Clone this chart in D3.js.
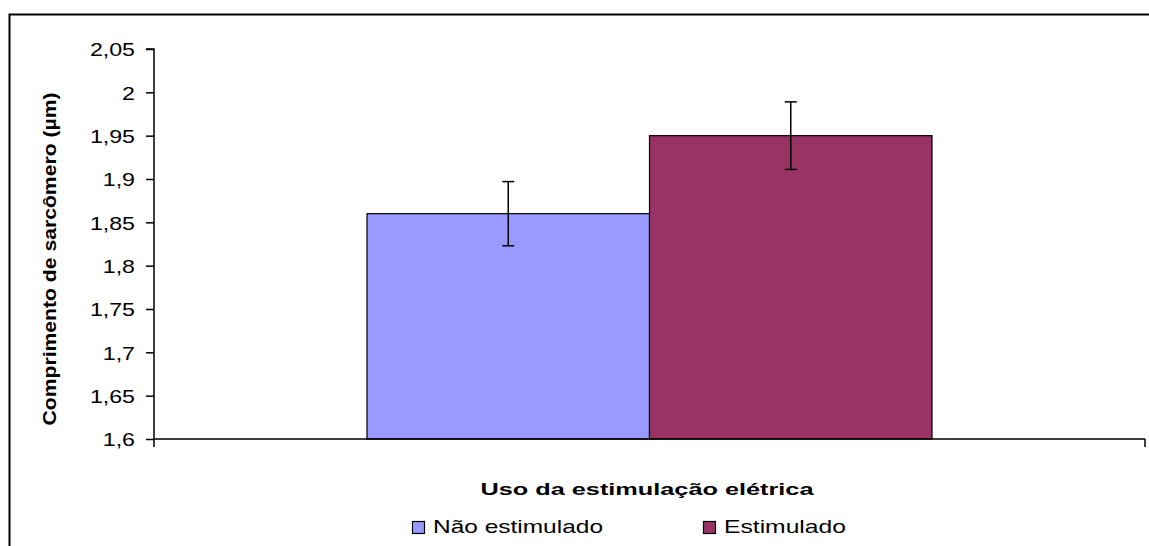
<!DOCTYPE html>
<html>
<head>
<meta charset="utf-8">
<script src="https://cdn.jsdelivr.net/npm/d3@7"></script>
<style>
  body { margin: 0; background: #fff; }
  svg { display: block; font-family: "Liberation Sans", Arial, sans-serif; }
</style>
</head>
<body>
<svg id="chart" width="1149" height="546"></svg>
<script>
// données
const series = ["Não estimulado", "Estimulado"];
const values = [1.86, 1.95];
const errors = [0.037, 0.039];
const colors = ["#9999ff", "#993366"];
const yTicks = [1.6, 1.65, 1.7, 1.75, 1.8, 1.85, 1.9, 1.95, 2, 2.05];

const svg = d3.select("#chart");

// étire le texte horizontalement (rendu Excel plus large)
function stretch(sel, k) {
  sel.each(function () {
    const w = this.getComputedTextLength();
    d3.select(this)
      .attr("textLength", w * k)
      .attr("lengthAdjust", "spacingAndGlyphs");
  });
}

// cadre extérieur
svg.append("rect")
  .attr("x", 9.5).attr("y", 14.5)
  .attr("width", 1300).attr("height", 700)
  .attr("fill", "none").attr("stroke", "#000").attr("stroke-width", 2);

const plot = { left: 154, right: 1145, top: 49, bottom: 439 };

const y = d3.scaleLinear().domain([1.6, 2.05]).range([plot.bottom, plot.top]);

const x = d3.scaleBand()
  .domain(series)
  .range([367, 932])
  .padding(0);

// axe Y
const yAxis = d3.axisLeft(y)
  .tickValues(yTicks)
  .tickSize(8)
  .tickPadding(11)
  .tickFormat(d => String(d).replace(".", ","));

const gy = svg.append("g")
  .attr("transform", `translate(${plot.left},0)`)
  .call(yAxis);
gy.select(".domain").attr("stroke", "#000").attr("stroke-width", 1.5)
  .attr("d", `M-8,${plot.top}H0V${plot.bottom}`);
gy.selectAll(".tick line").attr("stroke", "#000").attr("stroke-width", 1.5);
gy.selectAll(".tick text").attr("fill", "#000")
  .style("font-size", "19px").attr("dy", "0.36em")
  .call(stretch, 1.22);

// barres
svg.selectAll(".bar")
  .data(series)
  .join("rect")
  .attr("class", "bar")
  .attr("x", d => x(d))
  .attr("y", (d, i) => y(values[i]))
  .attr("width", x.bandwidth())
  .attr("height", (d, i) => y(1.6) - y(values[i]))
  .attr("fill", (d, i) => colors[i])
  .attr("stroke", "#000")
  .attr("stroke-width", 1.2);

// barres d'erreur
const eb = svg.selectAll(".err")
  .data(series)
  .join("g")
  .attr("class", "err")
  .attr("transform", d => `translate(${x(d) + x.bandwidth() / 2},0)`)
  .attr("stroke", "#000")
  .attr("stroke-width", 1.5);
eb.append("line")
  .attr("y1", (d, i) => y(values[i] + errors[i]))
  .attr("y2", (d, i) => y(values[i] - errors[i]));
eb.append("line").attr("x1", -6).attr("x2", 6)
  .attr("y1", (d, i) => y(values[i] + errors[i]))
  .attr("y2", (d, i) => y(values[i] + errors[i]));
eb.append("line").attr("x1", -6).attr("x2", 6)
  .attr("y1", (d, i) => y(values[i] - errors[i]))
  .attr("y2", (d, i) => y(values[i] - errors[i]));

// axe X
svg.append("line")
  .attr("x1", plot.left).attr("x2", plot.right)
  .attr("y1", plot.bottom).attr("y2", plot.bottom)
  .attr("stroke", "#000").attr("stroke-width", 1.5);
svg.append("line")
  .attr("x1", plot.left).attr("x2", plot.left)
  .attr("y1", plot.bottom).attr("y2", plot.bottom + 8)
  .attr("stroke", "#000").attr("stroke-width", 1.5);
svg.append("line")
  .attr("x1", plot.right).attr("x2", plot.right)
  .attr("y1", plot.bottom).attr("y2", plot.bottom + 8)
  .attr("stroke", "#000").attr("stroke-width", 1.5);

// titres
svg.append("text")
  .attr("transform", `translate(56,259) rotate(-90)`)
  .attr("text-anchor", "middle")
  .style("font-size", "18px").style("font-weight", "bold")
  .text("Comprimento de sarcômero (µm)")
  .attr("textLength", 333)
  .attr("lengthAdjust", "spacingAndGlyphs");

svg.append("text")
  .attr("x", 647).attr("y", 495)
  .attr("text-anchor", "middle")
  .style("font-size", "17px").style("font-weight", "bold")
  .text("Uso da estimulação elétrica")
  .attr("textLength", 333)
  .attr("lengthAdjust", "spacingAndGlyphs");

// légende
const legX = [412, 703];
const legW = [170, 122];
const leg = svg.selectAll(".leg")
  .data(series)
  .join("g")
  .attr("class", "leg")
  .attr("transform", (d, i) => `translate(${legX[i]},533)`);
leg.append("rect")
  .attr("x", 0.5).attr("y", -11.5)
  .attr("width", 12).attr("height", 12)
  .attr("fill", (d, i) => colors[i])
  .attr("stroke", "#000").attr("stroke-width", 1.2);
leg.append("text")
  .attr("x", 21).attr("y", 0)
  .style("font-size", "19px")
  .text(d => d)
  .attr("textLength", (d, i) => legW[i])
  .attr("lengthAdjust", "spacingAndGlyphs");
</script>
</body>
</html>
